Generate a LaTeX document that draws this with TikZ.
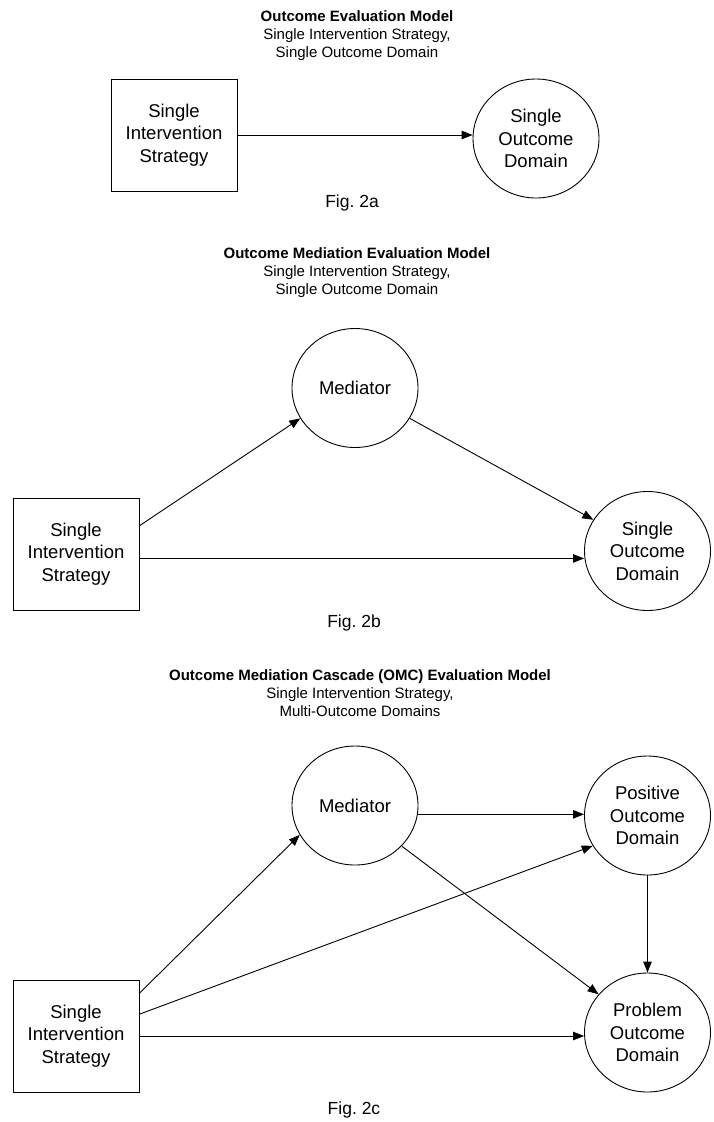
\documentclass[tikz,border=0pt]{standalone}
\usepackage{fontspec}
\setmainfont{Liberation Sans}
\usetikzlibrary{arrows.meta, shapes.geometric}

\begin{document}
\begin{tikzpicture}[x=1pt, y=-1pt, box/.style={draw, line width=0.9pt, minimum width=126pt, minimum height=112pt, inner sep=0pt, align=center, font=\fontsize{18.5}{22.5}\selectfont}, circ/.style={draw, ellipse, line width=0.9pt, minimum width=126pt, minimum height=119pt, inner sep=0pt, align=center, font=\fontsize{18.5}{22.5}\selectfont}, arrow/.style={-{Triangle[length=11pt, width=8.5pt]}, line width=0.9pt}, heading/.style={align=center, font=\fontsize{15}{18}\selectfont}, caption/.style={font=\fontsize{17.5}{21}\selectfont}]

\useasboundingbox (0,0) rectangle (713,1122);

% Fig. 2a
\node[heading] (TA) at (357,36) {\textbf{Outcome Evaluation Model}\\Single Intervention Strategy,\\Single Outcome Domain};
\node[box] (SIa) at (174,135) {Single\\Intervention\\Strategy}; \node[circ] (SOa) at (536,138.5) {Single\\Outcome\\Domain};
\draw[arrow] (SIa.east) -- (SIa.east -| SOa.west);
\node[caption] (FA) at (352,203) {Fig.\ 2a};

% Fig. 2b
\node[heading] (TB) at (357,273) {\textbf{Outcome Mediation Evaluation Model}\\Single Intervention Strategy,\\Single Outcome Domain};
\node[circ] (MB) at (355,388) {Mediator}; \node[box] (SB) at (76,554) {Single\\Intervention\\Strategy}; \node[circ] (OB) at (647.5,551) {Single\\Outcome\\Domain};
\draw[arrow] (SB.24) -- (MB.209); \draw[arrow] (MB.-29) -- (OB.150); \draw[arrow] (SB.-4) -- (SB.-4 -| OB.west);
\node[caption] (FB) at (354,623) {Fig.\ 2b};

% Fig. 2c
\node[heading] (TC) at (360,693) {\textbf{Outcome Mediation Cascade (OMC) Evaluation Model}\\Single Intervention Strategy,\\Multi-Outcome Domains};
\node[circ] (MC) at (355,805.5) {Mediator}; \node[circ] (PC) at (647.5,815.5) {Positive\\Outcome\\Domain};
\node[box] (SC) at (76,1036) {Single\\Intervention\\Strategy}; \node[circ] (QC) at (647.5,1032.5) {Problem\\Outcome\\Domain};
\draw[arrow] (SC.34) -- (MC.208); \draw[arrow] (SC.19) -- (PC.209); \draw[arrow] (SC.east) -- (SC.east -| QC.west);
\draw[arrow] (MC.-8) -- (MC.-8 -| PC.west); \draw[arrow] (MC.-41) -- (QC.142); \draw[arrow] (PC.south) -- (QC.north);
\node[caption] (FC) at (354,1110) {Fig.\ 2c};
\end{tikzpicture}
\end{document}
